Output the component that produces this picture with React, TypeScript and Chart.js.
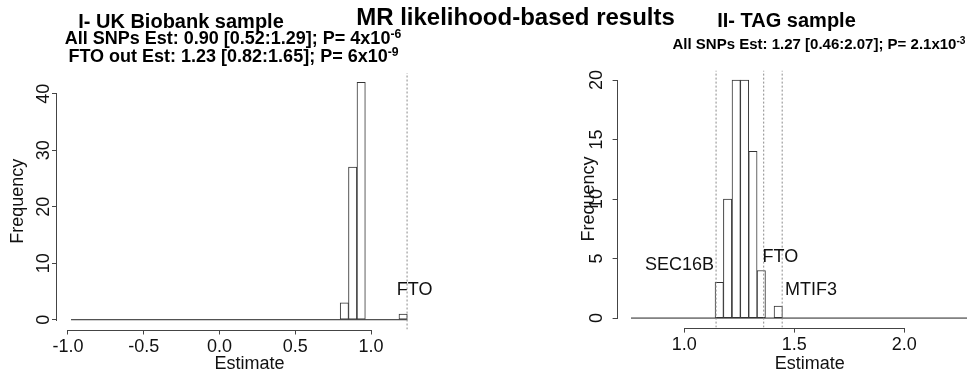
import React, { useEffect, useRef } from 'react';
import { Chart, registerables } from 'chart.js';

Chart.register(...registerables);

const FONT = '"Liberation Sans", Arial, Helvetica, sans-serif';

// ---------- Texts ----------
const mainTitle = 'MR likelihood-based results';
const ukTitle = 'I- UK Biobank sample';
const tagTitle = 'II- TAG sample';
const xTitle = 'Estimate';
const yTitle = 'Frequency';

// ---------- Panel I: UK Biobank ----------
const ukBinCenters = [0.824, 0.879, 0.935, 1.212];
const ukCounts = [3, 27, 42, 1];
const ukHistExtent = [-0.98, 1.24]; // zero-count bins form the baseline
const ukMarkers = [1.238];
const ukLabelText = ['FTO'];
const ukLabelX = [1.17];
const ukLabelY = [5.3];
const ukXTicks = [-1.0, -0.5, 0.0, 0.5, 1.0];
const ukYTicks = [0, 10, 20, 30, 40];

// ---------- Panel II: TAG ----------
const tagBinCenters = [1.159, 1.197, 1.236, 1.274, 1.312, 1.35, 1.427];
const tagCounts = [3, 10, 20, 20, 14, 4, 1];
const tagHistExtent = [0.758, 2.285];
const tagMarkers = [1.1445, 1.361, 1.445];
const tagLabelText = ['SEC16B', 'FTO', 'MTIF3'];
const tagLabelX = [1.135, 1.356, 1.458];
const tagLabelY = [4.45, 5.17, 2.35];
const tagXTicks = [1.0, 1.5, 2.0];
const tagYTicks = [0, 5, 10, 15, 20];

const rAxesPlugin = {
  id: 'rAxes',
  afterDraw(chart: any, _args: any, opts: any) {
    const { ctx, chartArea, scales } = chart;
    const xs = scales.x;
    const ys = scales.y;
    ctx.save();
    ctx.strokeStyle = '#444';
    ctx.lineWidth = 1;
    const xt = xs.ticks.map((t: any) => xs.getPixelForValue(t.value));
    const yt = ys.ticks.map((t: any) => ys.getPixelForValue(t.value));
    const yb = Math.round(chartArea.bottom) + 0.5;
    ctx.beginPath();
    ctx.moveTo(Math.round(xt[0]), yb);
    ctx.lineTo(Math.round(xt[xt.length - 1]) + 1, yb);
    ctx.stroke();
    const xl = Math.round(chartArea.left) - 0.5;
    ctx.beginPath();
    ctx.moveTo(xl, Math.round(yt[0]) + 1);
    ctx.lineTo(xl, Math.round(yt[yt.length - 1]));
    ctx.stroke();
    // text annotations
    ctx.fillStyle = '#111';
    ctx.font = `18px ${FONT}`;
    ctx.textBaseline = 'middle';
    const labels = opts.labels || [];
    for (const l of labels) {
      ctx.textAlign = l.align;
      ctx.fillText(l.text, xs.getPixelForValue(l.x), ys.getPixelForValue(l.y));
    }
    ctx.restore();
  },
};

type PanelProps = {
  left: number;
  width: number;
  pad: { left: number; top: number; right: number; bottom: number };
  yScaleWidth: number;
  xScaleHeight: number;
  xMin: number;
  xMax: number;
  yMin: number;
  yMax: number;
  centers: number[];
  counts: number[];
  extent: number[];
  markers: number[];
  labels: { text: string; x: number; y: number; align: string }[];
  xTicks: number[];
  yTicks: number[];
  yTitlePad: number;
  yTickPad: number;
  xTickPad: number;
};

function HistPanel(p: PanelProps) {
  const ref = useRef<HTMLCanvasElement>(null);
  useEffect(() => {
    const datasets: any[] = [
      {
        type: 'bar',
        data: p.centers.map((c, i) => ({ x: c, y: p.counts[i] })),
        backgroundColor: '#ffffff',
        borderColor: '#333333',
        borderWidth: 1,
        borderSkipped: false,
        barPercentage: 1,
        categoryPercentage: 1,
        order: 1,
      },
      {
        type: 'line',
        data: [
          { x: p.extent[0], y: 0 },
          { x: p.extent[1], y: 0 },
        ],
        borderColor: '#222222',
        borderWidth: 1,
        pointRadius: 0,
        order: 2,
      },
    ];
    p.markers.forEach((m) => {
      datasets.push({
        type: 'line',
        data: [
          { x: m, y: p.yMin },
          { x: m, y: p.yMax },
        ],
        borderColor: '#8a8a8a',
        borderWidth: 1,
        borderDash: [2, 2],
        pointRadius: 0,
        order: 0,
      });
    });
    const chart = new Chart(ref.current as HTMLCanvasElement, {
      type: 'bar',
      data: { datasets },
      options: {
        animation: false,
        responsive: true,
        maintainAspectRatio: false,
        events: [],
        layout: { padding: p.pad },
        plugins: {
          legend: { display: false },
          tooltip: { enabled: false },
          rAxes: { labels: p.labels },
        } as any,
        scales: {
          x: {
            type: 'linear',
            offset: false,
            min: p.xMin,
            max: p.xMax,
            afterBuildTicks: (s: any) => {
              s.ticks = p.xTicks.map((v) => ({ value: v }));
            },
            afterFit: (s: any) => {
              s.height = p.xScaleHeight;
            },
            border: { display: false },
            grid: {
              display: true,
              offset: false,
              drawOnChartArea: false,
              drawTicks: true,
              tickLength: 5,
              color: '#444',
            },
            ticks: {
              autoSkip: false,
              maxRotation: 0,
              minRotation: 0,
              padding: p.xTickPad,
              color: '#111',
              font: { size: 18, family: FONT },
              callback: (v: any) => Number(v).toFixed(1),
            },
            title: {
              display: true,
              text: xTitle,
              color: '#111',
              font: { size: 18, family: FONT },
              padding: { top: 0, bottom: -3 },
            },
          },
          y: {
            type: 'linear',
            min: p.yMin,
            max: p.yMax,
            afterBuildTicks: (s: any) => {
              s.ticks = p.yTicks.map((v) => ({ value: v }));
            },
            afterFit: (s: any) => {
              s.width = p.yScaleWidth;
            },
            border: { display: false },
            grid: {
              display: true,
              offset: false,
              drawOnChartArea: false,
              drawTicks: true,
              tickLength: 5,
              color: '#444',
            },
            ticks: {
              autoSkip: false,
              minRotation: 90,
              maxRotation: 90,
              crossAlign: 'center',
              padding: p.yTickPad,
              color: '#111',
              font: { size: 18, family: FONT },
              callback: (v: any) => String(Math.round(Number(v))),
            },
            title: {
              display: true,
              text: yTitle,
              color: '#111',
              font: { size: 18, family: FONT },
              padding: { top: p.yTitlePad, bottom: 0 },
            },
          },
        },
      } as any,
      plugins: [rAxesPlugin],
    });
    return () => chart.destroy();
  }, []);
  return (
    <div style={{ position: 'absolute', left: p.left, top: 0, width: p.width, height: 372 }}>
      <canvas ref={ref} />
    </div>
  );
}

const Sup = ({ children }: { children: any }) => (
  <span style={{ fontSize: '0.68em', position: 'relative', top: '-0.5em' }}>{children}</span>
);

const T = ({ cx, top, size, children }: { cx: number; top: number; size: number; children: any }) => (
  <div
    style={{
      position: 'absolute',
      left: cx,
      top,
      transform: 'translateX(-50%)',
      whiteSpace: 'nowrap',
      fontFamily: FONT,
      fontWeight: 'bold',
      fontSize: size,
      lineHeight: 1,
      color: '#000',
    }}
  >
    {children}
  </div>
);

export default function App() {
  const ukLabels = ukLabelText.map((t, i) => ({ text: t, x: ukLabelX[i], y: ukLabelY[i], align: 'left' }));
  const tagLabels = tagLabelText.map((t, i) => ({
    text: t,
    x: tagLabelX[i],
    y: tagLabelY[i],
    align: i === 0 ? 'right' : 'left',
  }));
  return (
    <div
      style={{
        position: 'fixed',
        left: 0,
        top: 0,
        width: 968,
        height: 372,
        overflow: 'hidden',
        background: '#fff',
      }}
    >
      <HistPanel
        left={0}
        width={484}
        pad={{ left: 0, top: 73, right: 42, bottom: 0 }}
        yScaleWidth={57}
        xScaleHeight={42.5}
        xMin={-1.0726}
        xMax={1.4686}
        yMin={-1.73}
        yMax={43.66}
        centers={ukBinCenters}
        counts={ukCounts}
        extent={ukHistExtent}
        markers={ukMarkers}
        labels={ukLabels}
        xTicks={ukXTicks}
        yTicks={ukYTicks}
        yTitlePad={7.7}
        yTickPad={-2.5}
        xTickPad={1.5}
      />
      <HistPanel
        left={484}
        width={518}
        pad={{ left: 83.6, top: 70.5, right: 0, bottom: 0 }}
        yScaleWidth={50}
        xScaleHeight={44.4}
        xMin={0.697}
        xMax={2.444}
        yMin={-0.8}
        yMax={20.8}
        centers={tagBinCenters}
        counts={tagCounts}
        extent={tagHistExtent}
        markers={tagMarkers}
        labels={tagLabels}
        xTicks={tagXTicks}
        yTicks={tagYTicks}
        yTitlePad={10.6}
        yTickPad={5.1}
        xTickPad={1.5}
      />
      <T cx={515.5} top={5.2} size={24}>{mainTitle}</T>
      <T cx={181} top={10.7} size={20}>{ukTitle}</T>
      <T cx={786.5} top={10.2} size={20}>{tagTitle}</T>
      <T cx={233} top={28.7} size={18}>
        All SNPs Est: 0.90 [0.52:1.29]; P= 4x10<Sup>-6</Sup>
      </T>
      <T cx={233.5} top={46.7} size={18}>
        FTO out Est: 1.23 [0.82:1.65]; P= 6x10<Sup>-9</Sup>
      </T>
      <T cx={819} top={36.2} size={15}>
        All SNPs Est: 1.27 [0.46:2.07]; P= 2.1x10<Sup>-3</Sup>
      </T>
    </div>
  );
}
